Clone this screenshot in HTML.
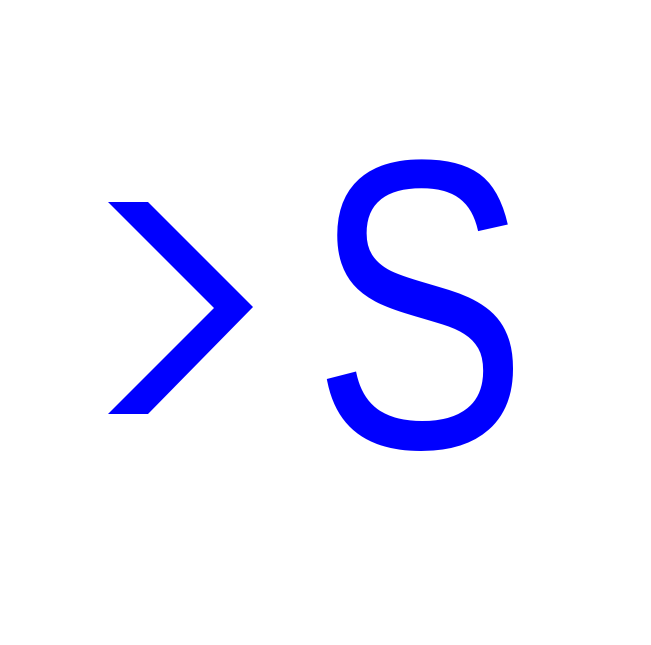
<!DOCTYPE html>
<html>
<head>
<meta charset="utf-8">
<style>
html,body{margin:0;padding:0;background:#fff;}
svg{display:block;}
</style>
</head>
<body>
<svg width="651" height="645" viewBox="0 0 651 645">
  <rect x="0" y="0" width="651" height="645" fill="#ffffff"/>
  <polygon points="108,202 148,202 253,307 148,414 108,414 214,308" fill="#0000ff"/>
  <g transform="translate(420,447) scale(0.785,1)">
    <text x="0" y="0" text-anchor="middle" font-family="'Liberation Sans', sans-serif" font-size="412" fill="#0000ff">S</text>
  </g>
</svg>
</body>
</html>
